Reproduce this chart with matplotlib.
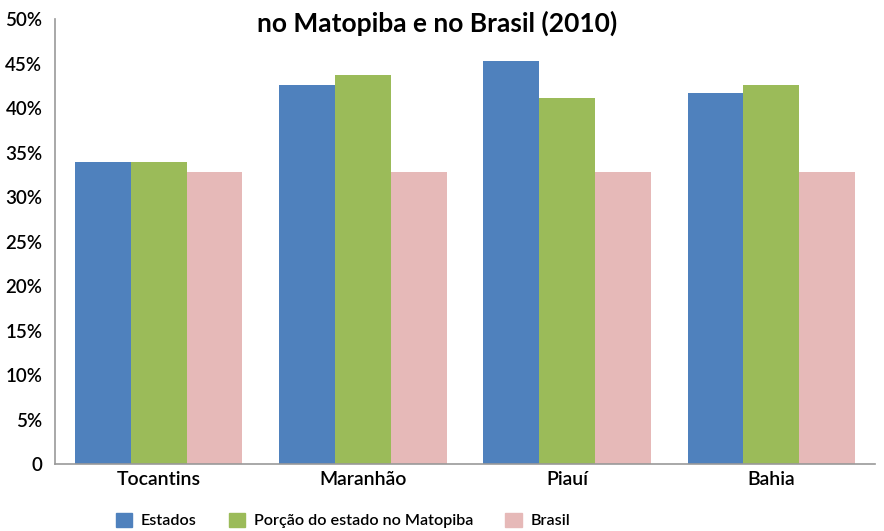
import matplotlib
matplotlib.use('Agg')
import matplotlib.pyplot as plt
from matplotlib.patches import Patch
import numpy as np

plt.rcParams['font.family'] = ['Lato', 'DejaVu Sans']

# data
states = ['Tocantins', 'Maranhão', 'Piauí', 'Bahia']
estados = [34.0, 42.6, 45.3, 41.7]
porcao = [34.0, 43.7, 41.1, 42.6]
brasil = [32.8, 32.8, 32.8, 32.8]
series_names = ['Estados', 'Porção do estado no Matopiba', 'Brasil']
colors = ['#4F81BD', '#9BBB59', '#E6B9B8']
yticks = [0, 5, 10, 15, 20, 25, 30, 35, 40, 45, 50]
ytick_labels = ['0'] + [f'{v}%' for v in yticks[1:]]

fig = plt.figure(figsize=(8.84, 5.31), dpi=100)
ax = fig.add_axes([0.062, 0.126, 0.928, 0.838])

x = np.arange(len(states))
w = 0.273
for i, (vals, c) in enumerate(zip([estados, porcao, brasil], colors)):
    ax.bar(x + (i - 1) * w, vals, width=w, color=c)

ax.set_xlim(-0.51, 3.51)
ax.set_ylim(0, 50)
ax.set_yticks(yticks)
ax.set_yticklabels(ytick_labels, fontsize=13.5, fontweight='semibold')
ax.set_xticks(x)
ax.set_xticklabels(states, fontsize=14, fontweight='semibold')
ax.tick_params(axis='y', length=0, pad=9)
ax.tick_params(axis='x', length=0, pad=5)
for s in ['top', 'right']:
    ax.spines[s].set_visible(False)
for s in ['left', 'bottom']:
    ax.spines[s].set_color('#999999')
    ax.spines[s].set_linewidth(1.2)

fig.text(0.494, 0.957, 'no Matopiba e no Brasil (2010)', ha='center', va='center',
         fontsize=19, fontweight='bold')

handles = [Patch(color=c, label=n) for c, n in zip(colors, series_names)]
fig.legend(handles=handles, loc='center', bbox_to_anchor=(0.388, 0.02), ncol=3,
           frameon=False, handlelength=1.0, handleheight=1.0,
           columnspacing=2.0, handletextpad=0.55,
           prop={'size': 11.6, 'weight': 'semibold'})

fig.savefig('out.png', dpi=100)
